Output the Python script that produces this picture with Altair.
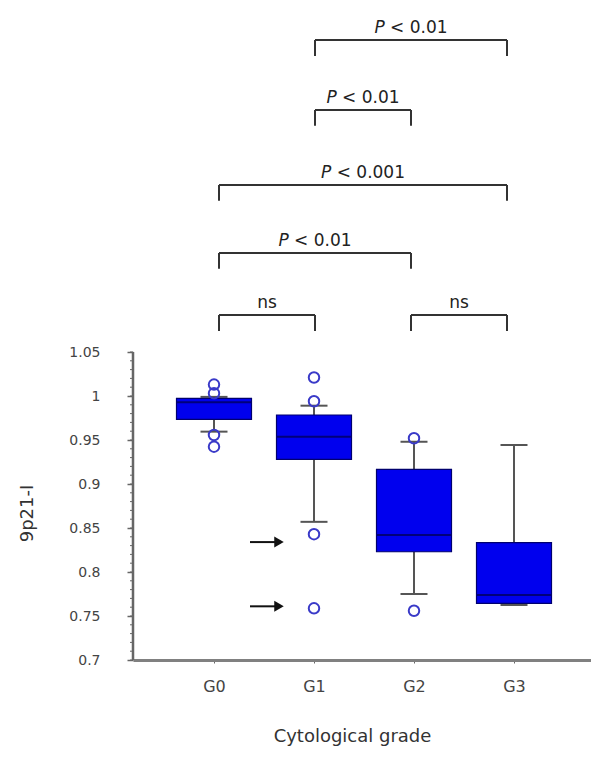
import altair as alt
import pandas as pd

# ---------------- data ----------------
grades = ["G0", "G1", "G2", "G3"]
q1 = [0.9735, 0.928, 0.823, 0.7644]
medians = [0.993, 0.9538, 0.842, 0.7739]
q3 = [0.9974, 0.9784, 0.9167, 0.8333]
whisker_low = [0.9595, 0.857, 0.775, 0.7625]
whisker_high = [0.999, 0.989, 0.948, 0.9443]

outlier_grade = ["G0", "G0", "G0", "G0", "G1", "G1", "G1", "G1", "G2", "G2"]
outlier_value = [1.013, 1.003, 0.9557, 0.9424, 1.021, 0.994, 0.843, 0.7587, 0.952, 0.756]

arrow_grade = ["G1", "G1"]
arrow_value = [0.834, 0.761]

bracket_left = ["G1", "G1", "G0", "G0", "G0", "G2"]
bracket_right = ["G3", "G2", "G3", "G2", "G1", "G3"]
bracket_height = [1.4045, 1.325, 1.2398, 1.1625, 1.092, 1.092]
bracket_label = ["P < 0.01", "P < 0.01", "P < 0.001", "P < 0.01", "ns", "ns"]
bracket_anchor = [0.05, 1.01, 1.97, 2.93]   # bracket end position for each grade

y_ticks = [0.7, 0.75, 0.8, 0.85, 0.9, 0.95, 1.0, 1.05]
minor_ticks = [round(0.7 + 0.01 * i, 2) for i in range(36)]

# ---------------- layout / style constants ----------------
W, H = 458, 638
X_DOM = [-0.81, 3.77]
Y_DOM = [0.7, 1.425]
PX_PER_UNIT = W / (X_DOM[1] - X_DOM[0])
FONT = "DejaVu Sans"
BOX_HALF = 0.375
CAP_HALF = 0.135
LEG = 0.018
TXT_SIZE = 17

xs = alt.Scale(domain=X_DOM, nice=False, zero=False)
ys = alt.Scale(domain=Y_DOM, nice=False, zero=False)

gidx = {g: i for i, g in enumerate(grades)}

boxes = pd.DataFrame({
    "grade": grades, "q1": q1, "med": medians, "q3": q3,
    "lo": whisker_low, "hi": whisker_high,
})
boxes["idx"] = boxes["grade"].map(gidx)

outliers = pd.DataFrame({"grade": outlier_grade, "v": outlier_value})
outliers["idx"] = outliers["grade"].map(gidx)

arrows = pd.DataFrame({"grade": arrow_grade, "v": arrow_value})
arrows["idx"] = arrows["grade"].map(gidx)

# bracket geometry
br = pd.DataFrame({"l": bracket_left, "r": bracket_right,
                   "y": bracket_height, "label": bracket_label})
br["x1"] = br["l"].map(lambda g: bracket_anchor[gidx[g]])
br["x2"] = br["r"].map(lambda g: bracket_anchor[gidx[g]])
br["mid"] = (br["x1"] + br["x2"]) / 2
legs = pd.concat([
    pd.DataFrame({"x": br["x1"], "y": br["y"]}),
    pd.DataFrame({"x": br["x2"], "y": br["y"]}),
])
legs["y2"] = legs["y"] - LEG

# widths of DejaVu Sans glyphs (per 1000 em) to centre the mixed-style labels
CW = {"P": 603, " ": 318, "<": 838, "0": 636, ".": 318, "1": 636,
      "n": 634, "s": 521}


def tw(s):
    return sum(CW.get(c, 600) for c in s) * TXT_SIZE / 1000.0


SPACE_W = tw(" ")
p_rows = br[br["label"].str.startswith("P")].copy()
p_rows["rest"] = p_rows["label"].str[1:].str.strip()
p_rows["xs"] = p_rows.apply(
    lambda r: r["mid"] + (tw("P") - SPACE_W - tw(r["rest"])) / 2 / PX_PER_UNIT,
    axis=1)
ns_rows = br[~br["label"].str.startswith("P")].copy()

# ---------------- chart ----------------
AX_COL = "#666666"
LBL_COL = "#444444"

x_axis = alt.Axis(
    values=[0, 1, 2, 3], labelExpr=f"{grades}[datum.value]",
    title="Cytological grade", titleX=219, titleY=76, titleAlign="center",
    titleBaseline="middle", titleFontSize=18, titleFontWeight="normal",
    titleColor="#333333", labelFontSize=16, labelColor=LBL_COL, labelPadding=15,
    tickSize=3, tickColor=AX_COL, domainColor="#808080", domainWidth=3,
    grid=False,
)
y_axis = alt.Axis(
    values=y_ticks, format=".2~f", domain=False, grid=False, tickSize=6,
    tickWidth=1.5, tickColor=AX_COL, labelPadding=27, labelFontSize=14,
    labelColor=LBL_COL, title="9p21-I", titleX=-106, titleY=491,
    titleAlign="center", titleBaseline="middle", titleFontSize=18,
    titleFontWeight="normal", titleColor="#333333",
)


def X(field):
    return alt.X(field, type="quantitative", scale=xs, axis=x_axis)


def Y(field):
    return alt.Y(field, type="quantitative", scale=ys, axis=y_axis)


base_box = alt.Chart(boxes)
WHISK = dict(color="#555555", strokeWidth=2)

whisk_lo = base_box.mark_rule(**WHISK).encode(x=X("idx"), y=Y("lo"), y2="q1:Q")
whisk_hi = base_box.mark_rule(**WHISK).encode(x=X("idx"), y=Y("q3"), y2="hi:Q")
cap_calc = dict(a=f"datum.idx - {CAP_HALF}", b=f"datum.idx + {CAP_HALF}")
caps_lo = base_box.transform_calculate(**cap_calc).mark_rule(**WHISK).encode(
    x=X("a"), x2="b:Q", y=Y("lo"))
caps_hi = base_box.transform_calculate(**cap_calc).mark_rule(**WHISK).encode(
    x=X("a"), x2="b:Q", y=Y("hi"))
box_calc = dict(a=f"datum.idx - {BOX_HALF}", b=f"datum.idx + {BOX_HALF}")
box = base_box.transform_calculate(**box_calc).mark_bar(
    color="#0000ee", stroke="#00006e", strokeWidth=1.2).encode(
    x=X("a"), x2="b:Q", y=Y("q1"), y2="q3:Q")
med = base_box.transform_calculate(**box_calc).mark_rule(
    color="#00007a", strokeWidth=2).encode(x=X("a"), x2="b:Q", y=Y("med"))
pts = alt.Chart(outliers).mark_point(
    shape="circle", filled=False, color="#3a3ac8", size=110, strokeWidth=2,
    opacity=1,
).encode(x=X("idx"), y=Y("v"))

# arrows pointing at G1 outliers
arrow_line = alt.Chart(arrows).transform_calculate(
    a="datum.idx - 1 + 0.36", b="datum.idx - 1 + 0.62"
).mark_rule(color="#111111", strokeWidth=2).encode(x=X("a"), x2="b:Q", y=Y("v"))
arrow_head = alt.Chart(arrows).transform_calculate(
    a="datum.idx - 1 + 0.65"
).mark_point(shape="triangle-right", filled=True, color="#111111",
             size=120, opacity=1).encode(x=X("a"), y=Y("v"))

# y axis line and minor ticks
axis_df = pd.DataFrame({"y": [y_ticks[0]], "y2": [y_ticks[-1]]})
y_domain_line = alt.Chart(axis_df).mark_rule(color=AX_COL, strokeWidth=2.5).encode(
    x=alt.value(0), y=Y("y"), y2="y2:Q")
minor_df = pd.DataFrame({"y": minor_ticks})
minor = alt.Chart(minor_df).mark_rule(color=AX_COL, strokeWidth=1).encode(
    x=alt.value(-3), x2=alt.value(0), y=Y("y"))

# significance brackets
BR = dict(color="#333333", strokeWidth=2)
br_h = alt.Chart(br).mark_rule(**BR).encode(x=X("x1"), x2="x2:Q", y=Y("y"))
br_v = alt.Chart(legs).mark_rule(**BR).encode(x=X("x"), y=Y("y"), y2="y2:Q")
TXT = dict(baseline="alphabetic", dy=-7, fontSize=TXT_SIZE, font=FONT,
           color="#222222")
p_italic = alt.Chart(p_rows).transform_calculate(t="'P'").mark_text(
    align="right", fontStyle="italic", **TXT).encode(
    x=X("xs"), y=Y("y"), text="t:N")
p_rest = alt.Chart(p_rows).mark_text(align="left", dx=SPACE_W, **TXT).encode(
    x=X("xs"), y=Y("y"), text="rest:N")
ns_text = alt.Chart(ns_rows).mark_text(align="center", **TXT).encode(
    x=X("mid"), y=Y("y"), text="label:N")

chart = alt.layer(
    whisk_lo, whisk_hi, caps_lo, caps_hi, box, med, pts,
    arrow_line, arrow_head, y_domain_line, minor,
    br_h, br_v, p_italic, p_rest, ns_text,
).properties(
    width=W, height=H,
    autosize=alt.AutoSizeParams(type="none"),
    padding={"left": 125, "top": 14, "right": 0, "bottom": 92},
    background="white",
).configure(font=FONT).configure_view(stroke=None)

chart.save("out.html", embed_options={"renderer": "svg", "actions": False})
